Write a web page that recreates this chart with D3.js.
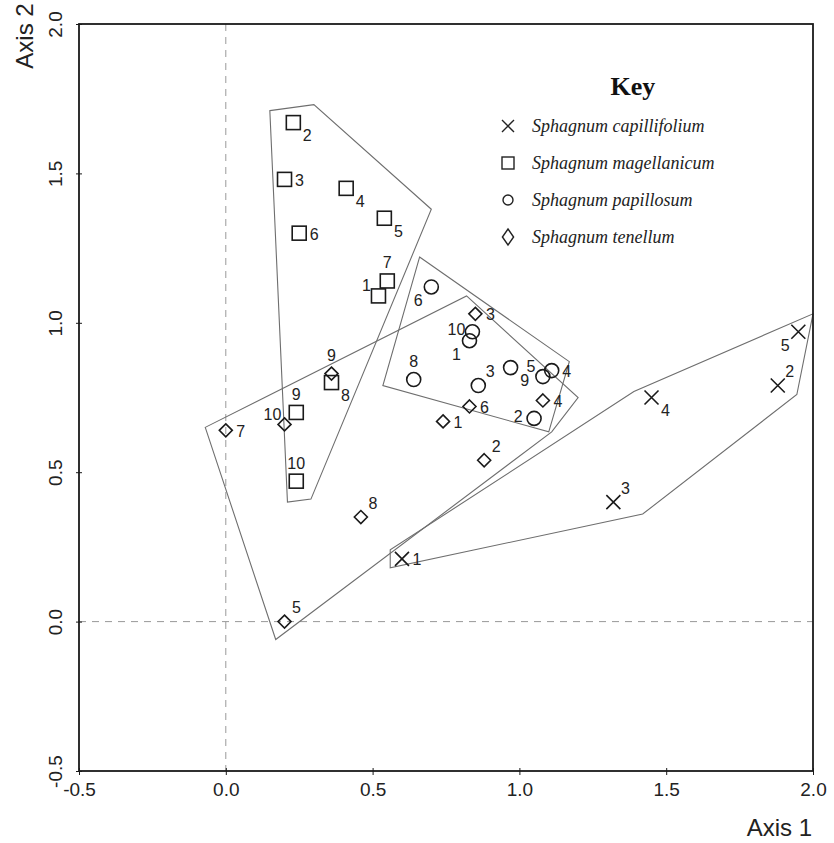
<!DOCTYPE html>
<html>
<head>
<meta charset="utf-8">
<script src="https://cdn.jsdelivr.net/npm/d3@7"></script>
<style>
  body { margin: 0; background: #fff; }
  .tick text { font-family: "Liberation Sans Narrow", "Liberation Sans", Arial, sans-serif; }
</style>
</head>
<body>
<div class="graph"></div>
<script>
var W = 834, H = 843;

// species, symbols and legend
var species = ["Sphagnum capillifolium", "Sphagnum magellanicum", "Sphagnum papillosum", "Sphagnum tenellum"];
var symbols = ["cross", "square", "circle", "diamond"];

// [sample, axis1, axis2, label placement]
var capillifolium = [
  [1, 0.60, 0.21, "r"],
  [2, 1.88, 0.79, "ur"],
  [3, 1.32, 0.40, "ur"],
  [4, 1.45, 0.75, "lr"],
  [5, 1.95, 0.97, "ll"]
];
var magellanicum = [
  [1, 0.52, 1.09, "ul"],
  [2, 0.23, 1.67, "lr"],
  [3, 0.20, 1.48, "r"],
  [4, 0.41, 1.45, "lr"],
  [5, 0.54, 1.35, "lr"],
  [6, 0.25, 1.30, "r"],
  [7, 0.55, 1.14, "a"],
  [8, 0.36, 0.80, "lr"],
  [9, 0.24, 0.70, "a"],
  [10, 0.24, 0.47, "a"]
];
var papillosum = [
  [1, 0.83, 0.94, "ll"],
  [2, 1.05, 0.68, "l"],
  [3, 0.86, 0.79, "ur"],
  [4, 1.11, 0.84, "r"],
  [5, 1.08, 0.82, "ul"],
  [6, 0.70, 1.12, "ll"],
  [8, 0.64, 0.81, "a"],
  [9, 0.97, 0.85, "lr"],
  [10, 0.84, 0.97, "l"]
];
var tenellum = [
  [1, 0.74, 0.67, "r"],
  [2, 0.88, 0.54, "ur"],
  [3, 0.85, 1.03, "r"],
  [4, 1.08, 0.74, "r"],
  [5, 0.20, 0.00, "ur"],
  [6, 0.83, 0.72, "r"],
  [7, 0.00, 0.64, "r"],
  [8, 0.46, 0.35, "ur"],
  [9, 0.36, 0.83, "a"],
  [10, 0.20, 0.66, "ul"]
];

// polygons drawn round each species (axis units)
var capHull = [[2.00, 1.03], [1.945, 0.76], [1.42, 0.36], [0.56, 0.18], [0.56, 0.24], [1.39, 0.77]];
var magHull = [[0.15, 1.71], [0.30, 1.73], [0.70, 1.38], [0.29, 0.41], [0.21, 0.40]];
var papHull = [[0.66, 1.22], [1.17, 0.87], [1.10, 0.635], [0.535, 0.79]];
var tenHull = [[-0.07, 0.65], [0.82, 1.09], [1.20, 0.75], [1.11, 0.635], [0.17, -0.06]];

var xTicks = [-0.5, 0.0, 0.5, 1.0, 1.5, 2.0];
var yTicks = [-0.5, 0.0, 0.5, 1.0, 1.5, 2.0];

var groups = [capillifolium, magellanicum, papillosum, tenellum];
var hulls = [capHull, magHull, papHull, tenHull];

var svg = d3.select(".graph").append("svg")
  .attr("width", W).attr("height", H);

var x = d3.scaleLinear().domain([-0.5, 2]).range([79, 813]);
var y = d3.scaleLinear().domain([-0.5, 2]).range([771, 24]);

var ink = "#1a1a1a";
var numFont = '"Liberation Sans Narrow", "Liberation Sans", Arial, sans-serif';
// plain hyphen for negatives, like the original
var fmt = function(d) { return d3.format(".1f")(d).replace("\u2212", "-"); };

// zero lines
svg.append("line")
  .attr("x1", x(0)).attr("x2", x(0)).attr("y1", y(2)).attr("y2", y(-0.5))
  .attr("stroke", "#999").attr("stroke-width", 1).attr("stroke-dasharray", "7,6");
svg.append("line")
  .attr("x1", x(-0.5)).attr("x2", x(2)).attr("y1", y(0)).attr("y2", y(0))
  .attr("stroke", "#999").attr("stroke-width", 1).attr("stroke-dasharray", "7,6");

// hulls
var line = d3.line().x(function(d) { return x(d[0]); }).y(function(d) { return y(d[1]); }).curve(d3.curveLinearClosed);
svg.append("g").selectAll("path")
  .data(hulls).enter().append("path")
  .attr("d", function(d) { return line(d); })
  .attr("fill", "none").attr("stroke", "#6e6e6e").attr("stroke-width", 1.1);

// frame
svg.append("rect")
  .attr("x", x(-0.5)).attr("y", y(2))
  .attr("width", x(2) - x(-0.5)).attr("height", y(-0.5) - y(2))
  .attr("fill", "none").attr("stroke", ink).attr("stroke-width", 1.8);

// axes
var xAxis = svg.append("g").attr("transform", "translate(0," + y(-0.5) + ")")
  .call(d3.axisBottom(x).tickValues(xTicks).tickFormat(fmt).tickSize(4).tickSizeOuter(0).tickPadding(8));
xAxis.select(".domain").remove();
xAxis.selectAll(".tick line").attr("y1", -3).attr("stroke", ink);
xAxis.selectAll(".tick text").attr("font-size", 19).attr("fill", "#222");

var yAxis = svg.append("g").attr("transform", "translate(" + x(-0.5) + ",0)")
  .call(d3.axisLeft(y).tickValues(yTicks).tickFormat(fmt).tickSize(4).tickSizeOuter(0));
yAxis.select(".domain").remove();
yAxis.selectAll(".tick line").attr("x1", 3).attr("x2", -3).attr("stroke", ink);
yAxis.selectAll(".tick text")
  .attr("x", 0).attr("dy", 0)
  .attr("transform", "translate(-17,0) rotate(-90)")
  .attr("text-anchor", "middle")
  .attr("font-size", 19).attr("fill", "#222");

// axis titles
svg.append("text").text("Axis 1")
  .attr("x", 812).attr("y", 836).attr("text-anchor", "end")
  .attr("font-family", numFont).attr("font-size", 24).attr("fill", "#222");
svg.append("text").text("Axis 2")
  .attr("transform", "translate(33,36) rotate(-90)").attr("text-anchor", "middle")
  .attr("font-family", numFont).attr("font-size", 24).attr("fill", "#222");

// marker shapes
function drawSymbol(g, type, s, w) {
  if (type == "cross") {
    g.append("path").attr("d", "M" + (-s) + "," + (-s) + "L" + s + "," + s + "M" + (-s) + "," + s + "L" + s + "," + (-s));
  } else if (type == "square") {
    g.append("rect").attr("x", -s).attr("y", -s).attr("width", 2 * s).attr("height", 2 * s);
  } else if (type == "circle") {
    g.append("circle").attr("r", s);
  } else {
    g.append("path").attr("d", "M0," + (-s) + "L" + (s * w) + ",0L0," + s + "L" + (-s * w) + ",0Z");
  }
}
var symSize = { cross: 7, square: 7, circle: 7, diamond: 6.5 };

// label offsets by placement code
var place = {
  r: [15, 1], ur: [12, -14], lr: [14, 13], ll: [-13, 14],
  ul: [-12, -10], l: [-16, -2], a: [0, -18]
};

groups.forEach(function(pts, i) {
  var g = svg.append("g").attr("class", "species-" + i);
  pts.forEach(function(p) {
    var m = g.append("g")
      .attr("transform", "translate(" + x(p[1]) + "," + y(p[2]) + ")")
      .attr("fill", "none").attr("stroke", ink).attr("stroke-width", 1.6);
    drawSymbol(m, symbols[i], symSize[symbols[i]], 1);
    var o = place[p[3]];
    g.append("text").text(p[0])
      .attr("x", x(p[1]) + o[0]).attr("y", y(p[2]) + o[1])
      .attr("text-anchor", "middle").attr("dominant-baseline", "central")
      .attr("font-family", numFont).attr("font-size", 16).attr("fill", "#222");
  });
});

// key
var key = svg.append("g");
key.append("text").text("Key")
  .attr("x", 633).attr("y", 95).attr("text-anchor", "middle")
  .attr("font-family", '"Liberation Serif", "Times New Roman", serif')
  .attr("font-weight", "bold").attr("font-size", 26).attr("fill", "#111");
species.forEach(function(s, i) {
  var yy = 126 + i * 37;
  var m = key.append("g").attr("transform", "translate(508," + yy + ")")
    .attr("fill", "none").attr("stroke", "#222").attr("stroke-width", 1.4);
  if (symbols[i] == "diamond") drawSymbol(m, "diamond", 8, 0.7);
  else drawSymbol(m, symbols[i], symbols[i] == "circle" ? 5 : 6, 1);
  key.append("text").text(s)
    .attr("x", 532).attr("y", yy).attr("dominant-baseline", "central")
    .attr("font-family", '"Liberation Serif", "Times New Roman", serif')
    .attr("font-style", "italic").attr("font-size", 18).attr("fill", "#222");
});
</script>
</body>
</html>
